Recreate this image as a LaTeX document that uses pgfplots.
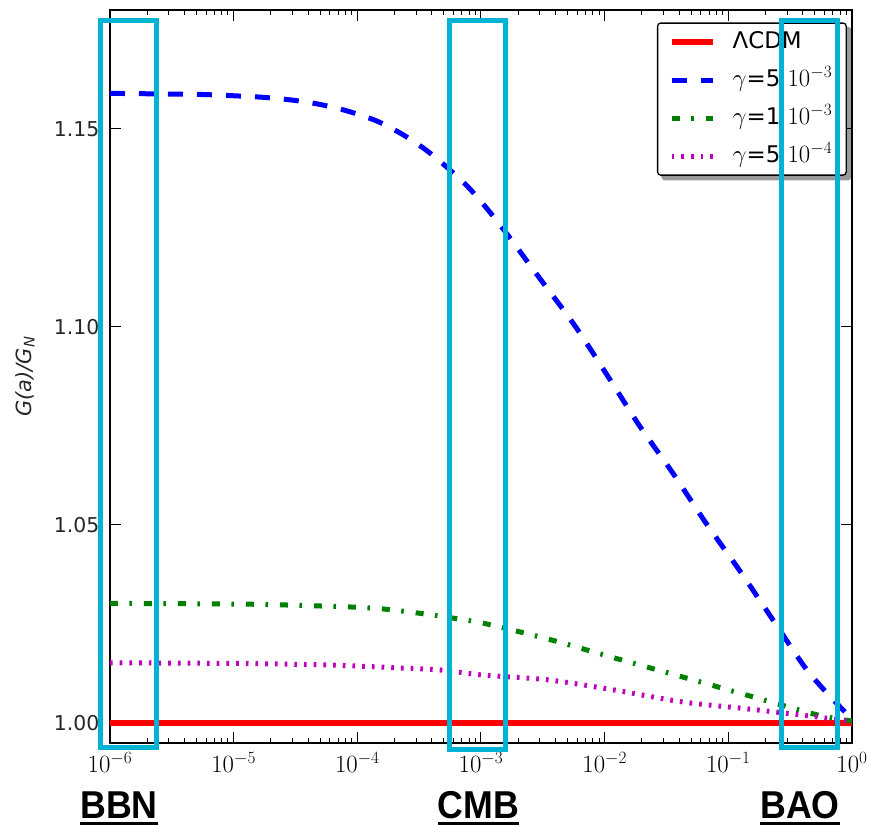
\documentclass[border=0pt]{standalone}
\usepackage{fontspec}
\usepackage{pgfplots}
\pgfplotsset{compat=1.18}
\usetikzlibrary{backgrounds,calc}

\newfontfamily\annfont{Liberation Sans}
\newfontfamily\dvs{DejaVu Sans}

\definecolor{boxcyan}{RGB}{0,178,212}
\definecolor{mplgreen}{RGB}{0,128,0}
\definecolor{mplmag}{RGB}{191,0,191}

% bold label with a thick rule underneath
\newcommand\ulbox[1]{\setbox0\hbox{#1}\rlap{\rule[-8bp]{\wd0}{4bp}}\box0}

\begin{document}
\begin{tikzpicture}
\useasboundingbox (-110bp,-82bp) rectangle (761bp,743bp);
\begin{axis}[
  at={(0bp,0bp)}, anchor=south west,
  scale only axis, width=742bp, height=733bp,
  xmode=log, xmin=1e-6, xmax=1,
  ymin=0.99495, ymax=1.18005,
  xtick={1e-6,1e-5,1e-4,1e-3,1e-2,1e-1,1},
  ytick={1,1.05,1.10,1.15},
  yticklabels={1.00,1.05,1.10,1.15},
  tick align=inside,
  major tick length=11bp, minor tick length=5.5bp,
  every tick/.style={black, line width=1bp},
  axis line style={line width=2bp},
  xticklabel style={font=\fontsize{23}{26}\selectfont, yshift=-6bp},
  yticklabel style={font=\dvs\fontsize{20.5}{24}\selectfont, text=black!85, xshift=-7bp},
  ylabel={\itshape G(a)/G\textsubscript{N}},
  every axis y label/.style={at={(axis description cs:-0.1146,0.5)}, anchor=center, rotate=90,
    font=\dvs\fontsize{21}{24}\selectfont, text=black!85},
  clip=false,
  legend cell align=left,
  legend image code/.code={\draw[#1] (0bp,0bp) -- (41bp,0bp);},
  legend style={
    name=lgd,
    at={(axis description cs:0.993,0.983)}, anchor=north east,
    draw=black, line width=1.3bp, rounded corners=3bp, fill=white,
    font=\dvs\fontsize{23}{26}\selectfont,
    inner xsep=11bp, inner ysep=5bp,
    /tikz/row sep=10bp, /tikz/column sep=14bp,
    nodes={inner sep=3bp, text height=17bp, text depth=5bp},
  },
]

\addplot[red, line width=6bp] coordinates {(1e-6,1.0) (1,1.0)};
\addlegendentry{ΛCDM}

\addplot[blue, line width=5bp, dash pattern=on 15bp off 14bp, smooth, tension=0.5] coordinates {
  (1e-6,1.1590) (1.92e-6,1.1589) (3.36e-6,1.1588) (5.76e-6,1.1587)
  (9.88e-6,1.1584) (1.73e-5,1.1580) (2.96e-5,1.1573) (4.99e-5,1.1562)
  (8.40e-5,1.1545) (1.44e-4,1.1520) (2.30e-4,1.1487) (3.59e-4,1.1447)
  (5.41e-4,1.1401) (8.00e-4,1.1351) (1.18e-3,1.1290) (1.62e-3,1.1235)
  (3.05e-3,1.1119) (5.75e-3,1.1003) (1.06e-2,1.0876) (1.89e-2,1.0753)
  (3.56e-2,1.0631) (6.59e-2,1.0505) (0.124,1.0384) (0.221,1.0268)
  (0.409,1.0144) (0.605,1.0081) (0.877,1.0028) (1,1.0010)
};
\addlegendentry{$\gamma$=5 $10^{-3}$}

\addplot[mplgreen, line width=5bp, dash pattern=on 8bp off 11.5bp on 2.5bp off 12bp, smooth, tension=0.5] coordinates {
  (1e-6,1.0302) (1.35e-5,1.0300) (8.73e-5,1.0293) (1.61e-4,1.0288)
  (3.03e-4,1.0278) (5.93e-4,1.0265) (1.12e-3,1.0250) (3.68e-3,1.0210)
  (1.21e-2,1.0164) (4.30e-2,1.0116) (0.150,1.0068) (0.531,1.0020) (1,1.0005)
};
\addlegendentry{$\gamma$=1 $10^{-3}$}

\addplot[mplmag, line width=5bp, dash pattern=on 2.7bp off 7bp, smooth, tension=0.5] coordinates {
  (1e-6,1.0152) (1.35e-5,1.0150) (6.35e-5,1.0146) (2.21e-4,1.0139)
  (4.66e-4,1.0134) (1.04e-3,1.0121) (3.48e-3,1.0109) (1.21e-2,1.0083)
  (4.30e-2,1.0053) (0.150,1.0035) (0.531,1.0015) (1,1.0003)
};
\addlegendentry{$\gamma$=5 $10^{-4}$}
\end{axis}

% legend shadow
\begin{pgfonlayer}{background}
  \fill[black!40, rounded corners=3bp] ($(lgd.south west)+(4.5bp,-4.5bp)$) rectangle ($(lgd.north east)+(4.5bp,-4.5bp)$);
\end{pgfonlayer}

% epoch windows
\draw[boxcyan, line width=5bp] (-9.5bp,-4bp) rectangle (46.5bp,722.5bp);
\draw[boxcyan, line width=5bp] (339bp,-6bp) rectangle (395.5bp,722.5bp);
\draw[boxcyan, line width=5bp] (671.5bp,-4bp) rectangle (727.5bp,722.5bp);

\begin{scope}[every node/.style={anchor=base, xscale=0.92, inner sep=0pt,
    font=\annfont\bfseries\fontsize{39}{44}\selectfont}]
  \node at (9bp,-75bp) {\ulbox{BBN}};
  \node at (368.5bp,-75bp) {\ulbox{CMB}};
  \node at (690bp,-75bp) {\ulbox{BAO}};
\end{scope}
\end{tikzpicture}
\end{document}
